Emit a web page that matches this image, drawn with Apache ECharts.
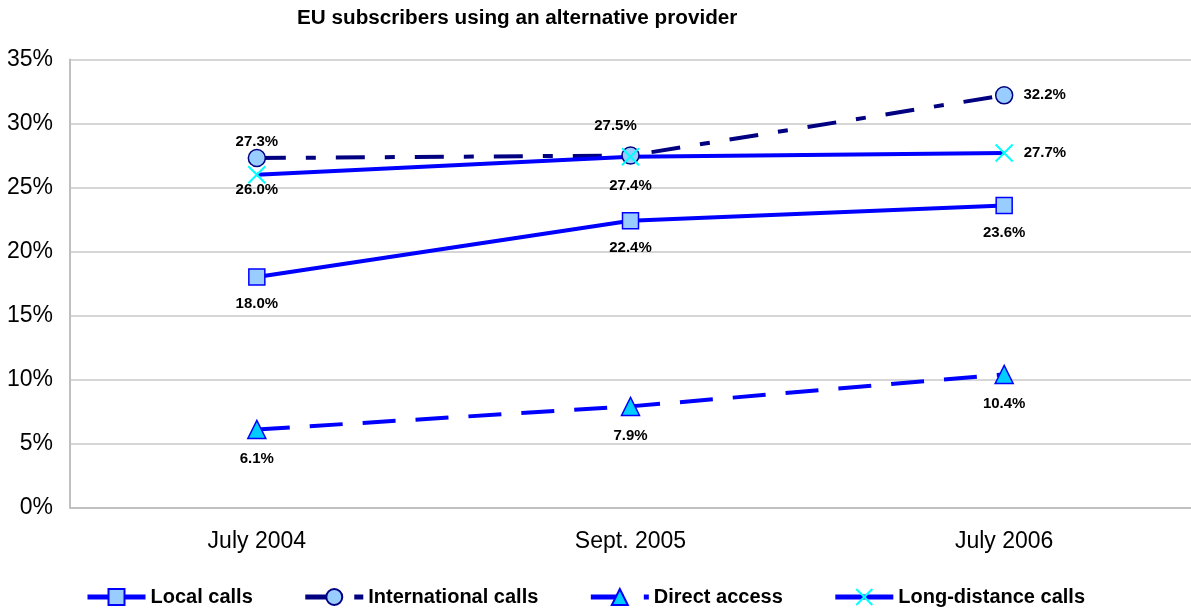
<!DOCTYPE html>
<html>
<head>
<meta charset="utf-8">
<script src="https://cdn.jsdelivr.net/npm/echarts@6/dist/echarts.min.js"></script>
<style>
html,body{margin:0;padding:0;background:#fff;}
#chart{width:1191px;height:614px;}
</style>
</head>
<body>
<div id="chart"></div>
<script>
const categories = ['July 2004', 'Sept. 2005', 'July 2006'];
const localCalls = [18.0, 22.4, 23.6];
const internationalCalls = [27.3, 27.5, 32.2];
const directAccess = [6.1, 7.9, 10.4];
const longDistanceCalls = [26.0, 27.4, 27.7];
const seriesNames = ['Local calls', 'International calls', 'Direct access', 'Long-distance calls'];

const FONT = 'Arial, "Liberation Sans", sans-serif';
const fmt = p => p.value.toFixed(1) + '%';
const labelBase = { show: true, formatter: fmt, color: '#000', fontFamily: FONT, fontWeight: 'bold', fontSize: 15 };

const chart = echarts.init(document.getElementById('chart'), null, { renderer: 'canvas' });
chart.setOption({
  animation: false,
  backgroundColor: '#fff',
  title: {
    text: 'EU subscribers using an alternative provider',
    left: 292, top: 3,
    textStyle: { fontFamily: FONT, fontWeight: 'bold', fontSize: 20.7, color: '#000' }
  },
  grid: { left: 70, right: 0, top: 59.5, bottom: 106.5, containLabel: false },
  legend: {
    data: seriesNames,
    left: 80, bottom: 2,
    itemWidth: 58, itemHeight: 20, itemGap: 50,
    lineStyle: { width: 5 },
    textStyle: { fontFamily: FONT, fontWeight: 'bold', fontSize: 20, color: '#000' }
  },
  xAxis: {
    type: 'category',
    data: categories,
    boundaryGap: true,
    axisLine: { lineStyle: { color: '#c0c0c0', width: 2 } },
    axisTick: { show: false },
    axisLabel: { color: '#000', fontFamily: FONT, fontSize: 23, margin: 23 }
  },
  yAxis: {
    type: 'value',
    min: 0, max: 35, interval: 5,
    axisLine: { show: true, lineStyle: { color: '#c0c0c0', width: 2 } },
    axisTick: { show: false },
    splitLine: { lineStyle: { color: '#c8c8c8', width: 1.5 } },
    axisLabel: { color: '#000', fontFamily: FONT, fontSize: 23, margin: 17, formatter: '{value}%' }
  },
  series: [
    {
      name: seriesNames[0], type: 'line', data: localCalls,
      symbol: 'rect', symbolSize: 16,
      lineStyle: { color: '#0000FF', width: 4 },
      itemStyle: { color: '#99CCFF', borderColor: '#0000FF', borderWidth: 1.5 },
      label: Object.assign({}, labelBase, { position: 'bottom', distance: 11 })
    },
    {
      name: seriesNames[1], type: 'line',
      data: [
        { value: internationalCalls[0], label: { position: 'top', distance: -1 } },
        { value: internationalCalls[1], label: { position: 'top', distance: 11, offset: [-15, -2] } },
        { value: internationalCalls[2], label: { position: 'right', distance: 10 } }
      ],
      symbol: 'circle', symbolSize: 17,
      lineStyle: { color: '#000080', width: 4, type: [29, 20, 10, 20] },
      itemStyle: { color: '#99CCFF', borderColor: '#000080', borderWidth: 1.5 },
      label: labelBase
    },
    {
      name: seriesNames[2], type: 'line', data: directAccess,
      symbol: 'triangle', symbolSize: 18,
      lineStyle: { color: '#0000FF', width: 4, type: [33, 20] },
      itemStyle: { color: '#00CCFF', borderColor: '#0000FF', borderWidth: 1.5 },
      label: Object.assign({}, labelBase, { position: 'bottom', distance: 12 })
    },
    {
      name: seriesNames[3], type: 'line',
      data: [
        { value: longDistanceCalls[0], label: { position: 'bottom', distance: -2 } },
        { value: longDistanceCalls[1], label: { position: 'bottom', distance: 12 } },
        { value: longDistanceCalls[2], label: { position: 'right', distance: 10 } }
      ],
      symbol: 'path://M0 0L10 10M10 0L0 10', symbolSize: 17,
      lineStyle: { color: '#0000FF', width: 4 },
      itemStyle: { color: 'rgba(0,0,0,0)', borderColor: '#00FFFF', borderWidth: 2 },
      label: labelBase
    }
  ]
});
</script>
</body>
</html>
